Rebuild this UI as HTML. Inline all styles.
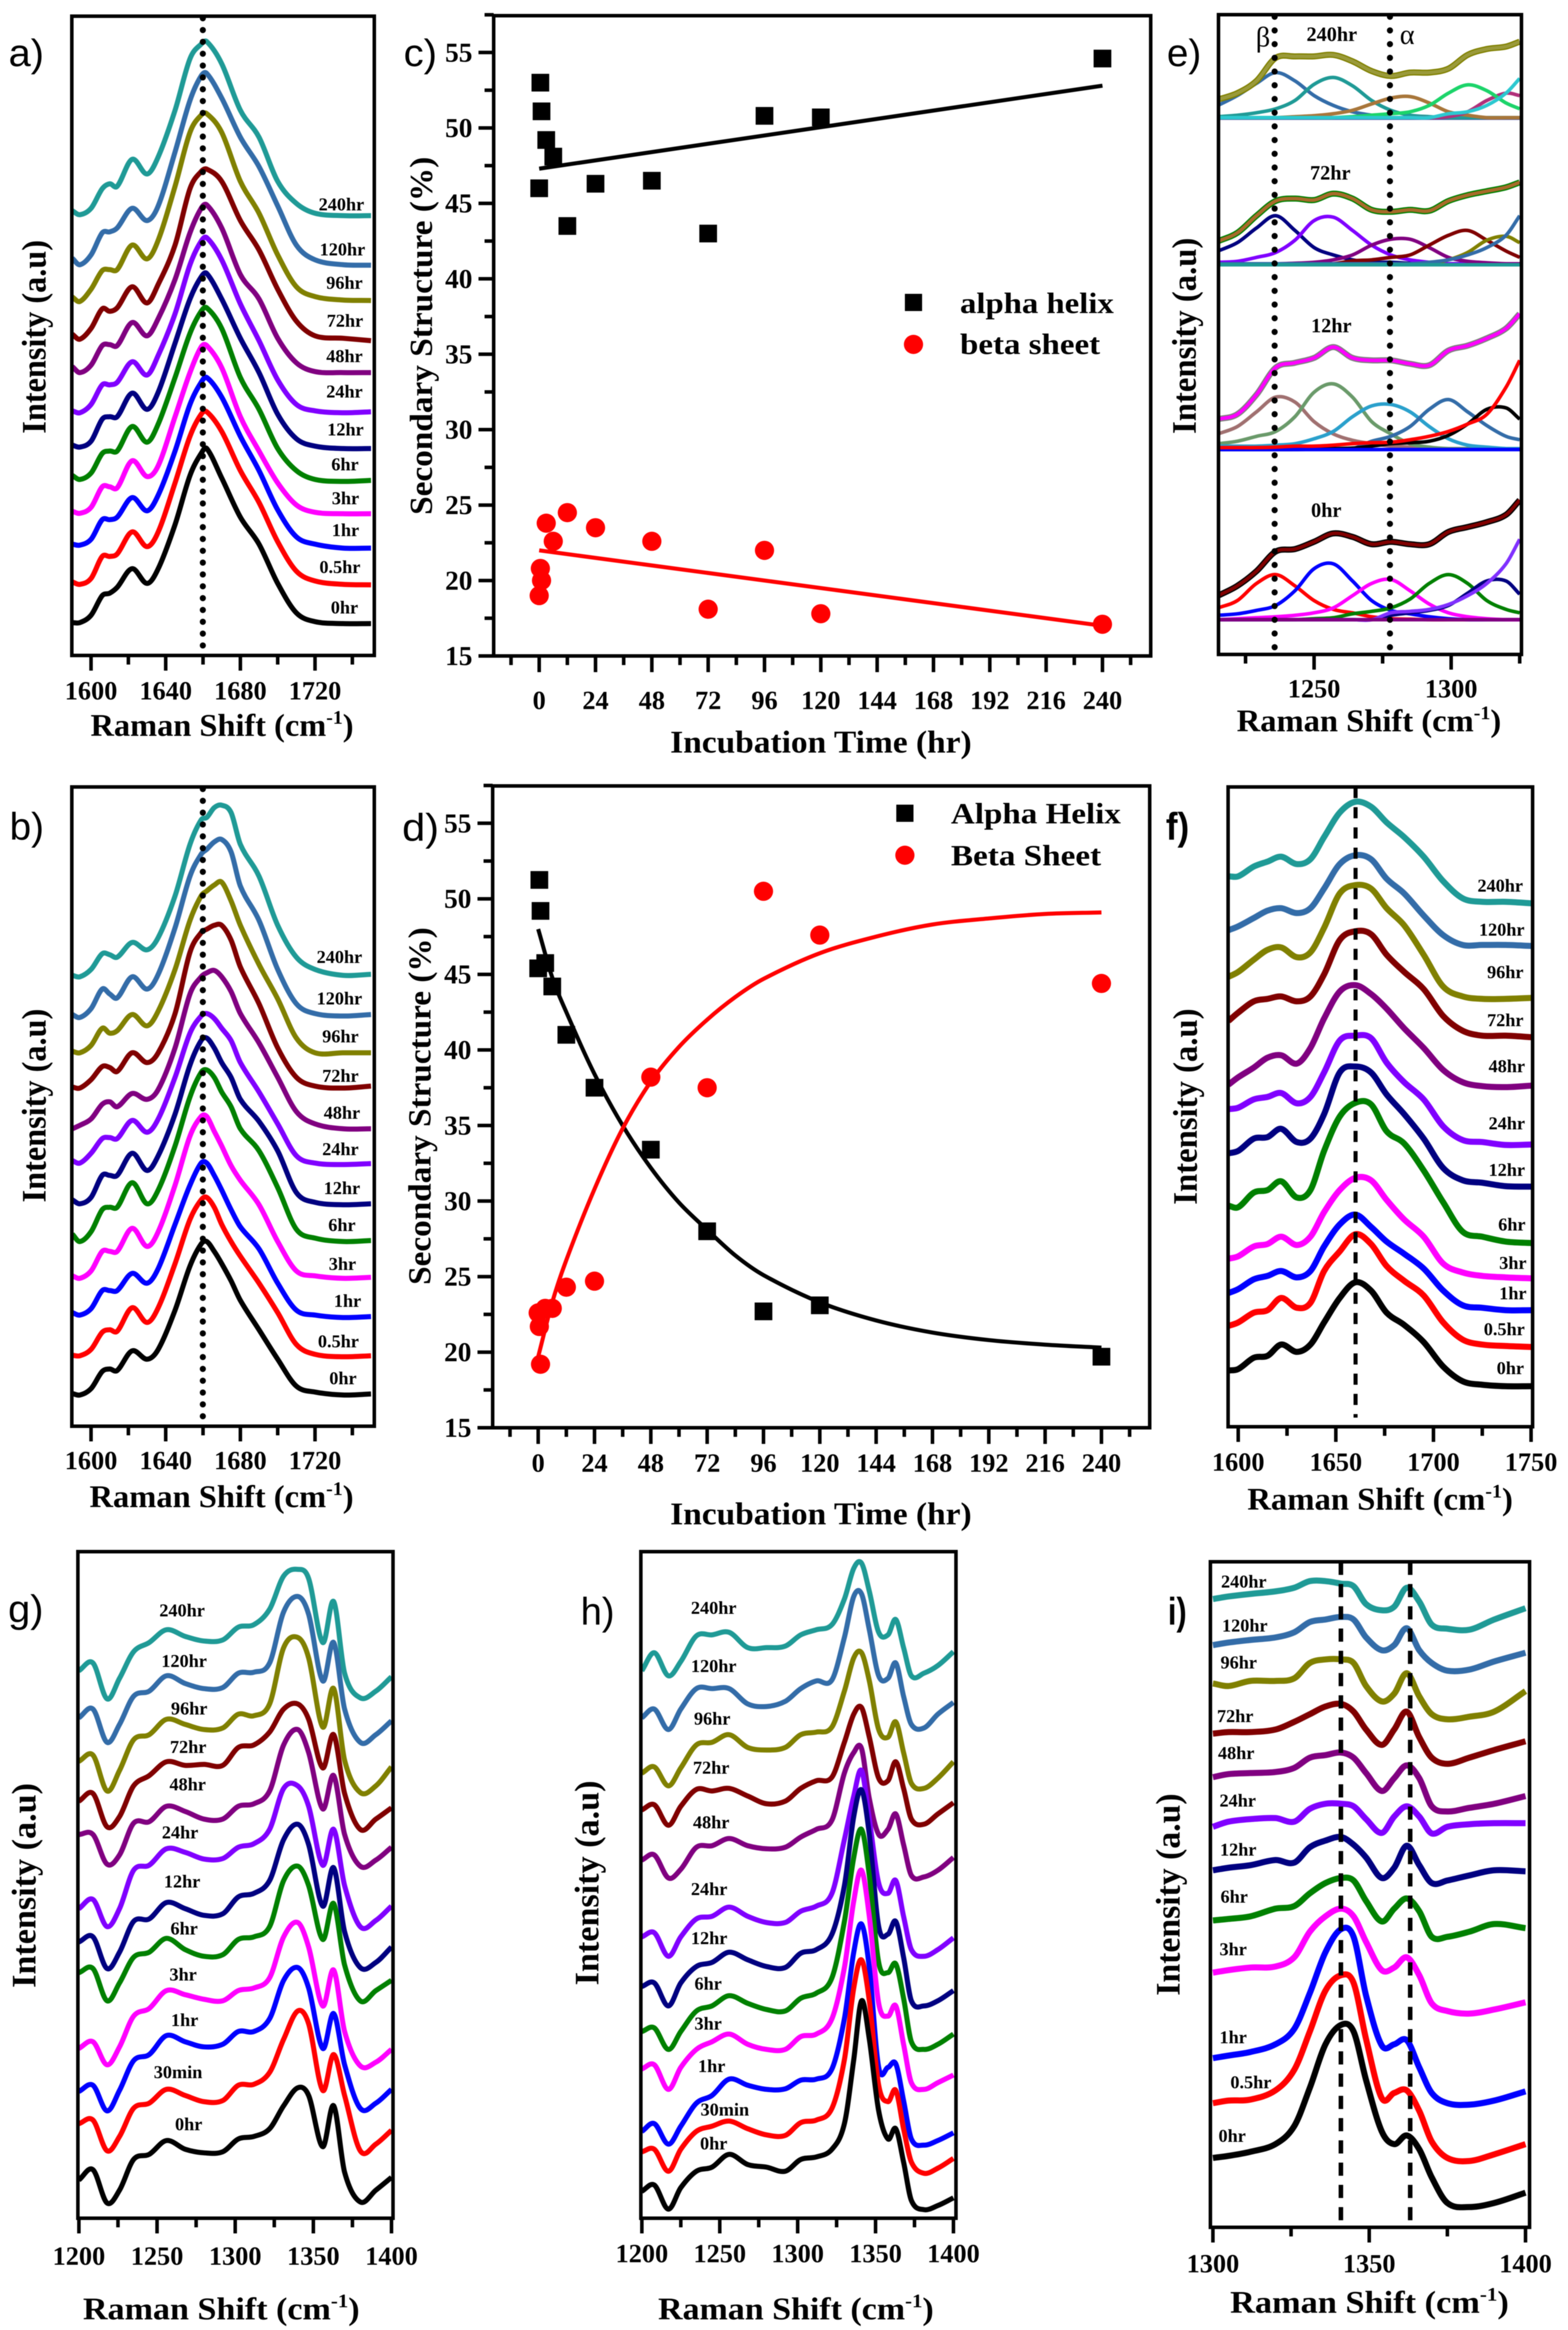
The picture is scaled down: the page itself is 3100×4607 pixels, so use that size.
<!DOCTYPE html>
<html lang="en">
<head>
<meta charset="utf-8">
<title>Raman spectra and secondary structure panels</title>
<style>
html,body{margin:0;padding:0;background:#fff;}
svg{display:block;filter:blur(0.8px);}
text{font-family:"Liberation Serif",serif;font-weight:bold;fill:#000;}
.hr{font-size:36px;text-anchor:middle;}
.hre{font-size:40px;text-anchor:middle;}
.tick{font-size:52px;text-anchor:middle;}
.title{font-size:62px;}
.ytitle{font-size:68px;text-anchor:middle;}
.sstitle{font-size:64px;text-anchor:middle;}
.leg{font-size:58px;}
.letter{font-family:"Liberation Sans",sans-serif;font-weight:normal;font-size:76px;}
</style>
</head>
<body>
<svg id="fig" xmlns="http://www.w3.org/2000/svg" width="3100" height="4607" viewBox="0 0 3100 4607">
<rect x="0" y="0" width="3100" height="4607" fill="#fff"/>
<g id="marks"></g>

<g>
<text class="letter" x="17" y="131" textLength="70" lengthAdjust="spacingAndGlyphs">a)</text>
<text class="letter" x="19" y="1660" textLength="68" lengthAdjust="spacingAndGlyphs">b)</text>
<text class="letter" x="798" y="131" textLength="66" lengthAdjust="spacingAndGlyphs">c)</text>
<text class="letter" x="795" y="1662" textLength="73" lengthAdjust="spacingAndGlyphs">d)</text>
<text class="letter" x="2307" y="131" textLength="68" lengthAdjust="spacingAndGlyphs">e)</text>
<text class="letter" x="2305" y="1660" textLength="46" lengthAdjust="spacingAndGlyphs" style="font-weight:bold">f)</text>
<text class="letter" x="16" y="3207" textLength="70" lengthAdjust="spacingAndGlyphs">g)</text>
<text class="letter" x="1148" y="3212" textLength="67" lengthAdjust="spacingAndGlyphs">h)</text>
<text class="letter" x="2309" y="3212" textLength="37" lengthAdjust="spacingAndGlyphs" style="font-weight:bold">i)</text>
</g>

<g>
<text class="title" x="179" y="1455" textLength="520" lengthAdjust="spacingAndGlyphs">Raman Shift (cm<tspan dy="-24" font-size="38">-1</tspan><tspan dy="24">)</tspan></text>
<text class="title" x="177" y="2980" textLength="522" lengthAdjust="spacingAndGlyphs">Raman Shift (cm<tspan dy="-24" font-size="38">-1</tspan><tspan dy="24">)</tspan></text>
<text class="title" x="2445" y="1446" textLength="523" lengthAdjust="spacingAndGlyphs">Raman Shift (cm<tspan dy="-24" font-size="38">-1</tspan><tspan dy="24">)</tspan></text>
<text class="title" x="2466" y="2985" textLength="525" lengthAdjust="spacingAndGlyphs">Raman Shift (cm<tspan dy="-24" font-size="38">-1</tspan><tspan dy="24">)</tspan></text>
<text class="title" x="164" y="4586" textLength="547" lengthAdjust="spacingAndGlyphs">Raman Shift (cm<tspan dy="-24" font-size="38">-1</tspan><tspan dy="24">)</tspan></text>
<text class="title" x="1301" y="4586" textLength="545" lengthAdjust="spacingAndGlyphs">Raman Shift (cm<tspan dy="-24" font-size="38">-1</tspan><tspan dy="24">)</tspan></text>
<text class="title" x="2432" y="4573" textLength="551" lengthAdjust="spacingAndGlyphs">Raman Shift (cm<tspan dy="-24" font-size="38">-1</tspan><tspan dy="24">)</tspan></text>
<text class="title" x="1325" y="1488" textLength="596" lengthAdjust="spacingAndGlyphs">Incubation Time (hr)</text>
<text class="title" x="1325" y="3014" textLength="596" lengthAdjust="spacingAndGlyphs">Incubation Time (hr)</text>
<text class="ytitle" transform="translate(90,666) rotate(-90)" textLength="383" lengthAdjust="spacingAndGlyphs">Intensity (a.u)</text>
<text class="ytitle" transform="translate(90,2186) rotate(-90)" textLength="383" lengthAdjust="spacingAndGlyphs">Intensity (a.u)</text>
<text class="ytitle" transform="translate(2364,664) rotate(-90)" textLength="388" lengthAdjust="spacingAndGlyphs">Intensity (a.u)</text>
<text class="ytitle" transform="translate(2366,2188) rotate(-90)" textLength="388" lengthAdjust="spacingAndGlyphs">Intensity (a.u)</text>
<text class="ytitle" transform="translate(70,3728) rotate(-90)" textLength="405" lengthAdjust="spacingAndGlyphs">Intensity (a.u)</text>
<text class="ytitle" transform="translate(1183,3723) rotate(-90)" textLength="405" lengthAdjust="spacingAndGlyphs">Intensity (a.u)</text>
<text class="ytitle" transform="translate(2332,3746) rotate(-90)" textLength="400" lengthAdjust="spacingAndGlyphs">Intensity (a.u)</text>
<text class="sstitle" transform="translate(854,664) rotate(-90)" textLength="708" lengthAdjust="spacingAndGlyphs">Secondary Structure (%)</text>
<text class="sstitle" transform="translate(851,2187) rotate(-90)" textLength="707" lengthAdjust="spacingAndGlyphs">Secondary Structure (%)</text>
</g>

<g>
<rect x="1789" y="581" width="34" height="34" fill="#000"/>
<text class="leg" x="1898" y="619" textLength="304" lengthAdjust="spacingAndGlyphs">alpha helix</text>
<circle cx="1806" cy="681" r="19" fill="#ff0000"/>
<text class="leg" x="1898" y="700" textLength="277" lengthAdjust="spacingAndGlyphs">beta sheet</text>
</g>
<g>
<rect x="1772" y="1591" width="34" height="34" fill="#000"/>
<text class="leg" x="1880" y="1628" textLength="336" lengthAdjust="spacingAndGlyphs">Alpha Helix</text>
<circle cx="1789" cy="1691" r="19" fill="#ff0000"/>
<text class="leg" x="1880" y="1711" textLength="297" lengthAdjust="spacingAndGlyphs">Beta Sheet</text>
</g>

<g>
<text class="hr" x="675" y="416">240hr</text>
<text class="hr" x="677" y="505">120hr</text>
<text class="hr" x="681" y="571">96hr</text>
<text class="hr" x="682" y="646">72hr</text>
<text class="hr" x="681" y="716">48hr</text>
<text class="hr" x="681" y="786">24hr</text>
<text class="hr" x="683" y="861">12hr</text>
<text class="hr" x="682" y="930">6hr</text>
<text class="hr" x="683" y="997">3hr</text>
<text class="hr" x="683" y="1060">1hr</text>
<text class="hr" x="672" y="1133">0.5hr</text>
<text class="hr" x="681" y="1213">0hr</text>
</g>
<g>
<text class="hr" x="671" y="1904">240hr</text>
<text class="hr" x="671" y="1986">120hr</text>
<text class="hr" x="673" y="2061">96hr</text>
<text class="hr" x="673" y="2139">72hr</text>
<text class="hr" x="676" y="2212">48hr</text>
<text class="hr" x="673" y="2284">24hr</text>
<text class="hr" x="676" y="2361">12hr</text>
<text class="hr" x="676" y="2434">6hr</text>
<text class="hr" x="677" y="2511">3hr</text>
<text class="hr" x="687" y="2584">1hr</text>
<text class="hr" x="669" y="2664">0.5hr</text>
<text class="hr" x="678" y="2737">0hr</text>
</g>
<g>
<text class="hre" x="2633" y="81">240hr</text>
<text class="hre" x="2630" y="355">72hr</text>
<text class="hre" x="2632" y="657">12hr</text>
<text class="hre" x="2622" y="1022">0hr</text>
<text x="2497" y="92" font-size="56" text-anchor="middle" style="font-weight:normal">β</text>
<text x="2782" y="87" font-size="56" text-anchor="middle" style="font-weight:normal">α</text>
</g>
<g>
<text class="hr" x="2966" y="1763">240hr</text>
<text class="hr" x="2969" y="1850">120hr</text>
<text class="hr" x="2976" y="1934">96hr</text>
<text class="hr" x="2976" y="2029">72hr</text>
<text class="hr" x="2979" y="2120">48hr</text>
<text class="hr" x="2979" y="2233">24hr</text>
<text class="hr" x="2979" y="2325">12hr</text>
<text class="hr" x="2989" y="2433">6hr</text>
<text class="hr" x="2991" y="2509">3hr</text>
<text class="hr" x="2991" y="2569">1hr</text>
<text class="hr" x="2974" y="2640">0.5hr</text>
<text class="hr" x="2986" y="2717">0hr</text>
</g>
<g>
<text class="hr" x="360" y="3196">240hr</text>
<text class="hr" x="364" y="3296">120hr</text>
<text class="hr" x="374" y="3390">96hr</text>
<text class="hr" x="372" y="3466">72hr</text>
<text class="hr" x="371" y="3540">48hr</text>
<text class="hr" x="356" y="3635">24hr</text>
<text class="hr" x="360" y="3732">12hr</text>
<text class="hr" x="364" y="3825">6hr</text>
<text class="hr" x="362" y="3916">3hr</text>
<text class="hr" x="365" y="4006">1hr</text>
<text class="hr" x="352" y="4109">30min</text>
<text class="hr" x="373" y="4212">0hr</text>
</g>
<g>
<text class="hr" x="1411" y="3191">240hr</text>
<text class="hr" x="1411" y="3306">120hr</text>
<text class="hr" x="1408" y="3410">96hr</text>
<text class="hr" x="1406" y="3507">72hr</text>
<text class="hr" x="1406" y="3615">48hr</text>
<text class="hr" x="1402" y="3747">24hr</text>
<text class="hr" x="1402" y="3844">12hr</text>
<text class="hr" x="1400" y="3934">6hr</text>
<text class="hr" x="1400" y="4013">3hr</text>
<text class="hr" x="1407" y="4097">1hr</text>
<text class="hr" x="1433" y="4183">30min</text>
<text class="hr" x="1411" y="4250">0hr</text>
</g>
<g>
<text class="hr" x="2459" y="3139">240hr</text>
<text class="hr" x="2461" y="3226">120hr</text>
<text class="hr" x="2449" y="3299">96hr</text>
<text class="hr" x="2442" y="3405">72hr</text>
<text class="hr" x="2444" y="3478">48hr</text>
<text class="hr" x="2447" y="3572">24hr</text>
<text class="hr" x="2448" y="3669">12hr</text>
<text class="hr" x="2440" y="3762">6hr</text>
<text class="hr" x="2438" y="3866">3hr</text>
<text class="hr" x="2438" y="4040">1hr</text>
<text class="hr" x="2473" y="4129">0.5hr</text>
<text class="hr" x="2436" y="4235">0hr</text>
</g>
</svg>

<script>
// ---------- shared ----------
const seriesColors = ['#000000','#ff0000','#0000ff','#ff00ff','#008000','#000080','#8000ff','#800080','#800000','#808000','#336ca8','#1f9a96'];
const timesHr = ['0hr','0.5hr','1hr','3hr','6hr','12hr','24hr','48hr','72hr','96hr','120hr','240hr'];

// ---------- panel a ----------
const aShift = [1590,1594,1600,1606,1610,1614,1622,1630,1636,1645,1653,1659,1662,1670,1680,1690,1700,1710,1720,1735,1750];
const a0 = [67,67,82,122,127,139,177,147,177,267,367,412,422,362,282,227,147,87,69,65,65];
const a05 = [150,145,157,202,202,207,252,222,252,352,447,492,497,457,377,312,232,172,152,145,144];
const a1 = [227,225,237,277,277,282,322,295,327,417,512,557,567,527,447,377,297,242,227,219,219];
const a3 = [294,290,302,344,344,342,397,365,387,487,577,629,632,587,487,417,352,307,292,289,289];
const a6 = [367,359,372,412,417,417,467,435,472,567,657,702,709,667,567,502,422,377,359,355,357];
const a12 = [429,425,437,482,487,487,535,502,537,637,727,772,779,727,647,577,492,442,427,422,422];
const a24 = [499,495,512,552,552,557,599,572,612,697,797,845,852,807,717,642,562,512,499,495,497];
const a48 = [589,577,592,632,634,632,679,652,687,767,862,912,919,872,777,727,647,597,579,577,577];
const a72 = [655,645,667,707,702,709,752,719,757,837,952,987,992,967,887,827,747,682,652,647,642];
const a96 = [731,722,747,785,787,787,837,809,847,957,1067,1102,1105,1067,967,902,817,752,732,725,724];
const a120 = [810,797,817,862,864,872,912,887,917,1027,1132,1182,1187,1137,1057,997,917,837,807,797,796];
const a240 = [907,899,912,952,962,957,1012,982,1017,1112,1217,1247,1252,1207,1112,1057,967,922,902,897,897];
const aSeries = [a0,a05,a1,a3,a6,a12,a24,a48,a72,a96,a120,a240];
const abMajorTicks = [1600,1640,1680,1720];
const abMinorTicks = [1620,1660,1700,1740];

// ---------- panel b ----------
const bShift = [1590,1594,1600,1606,1610,1614,1622,1630,1636,1645,1653,1659,1662,1666,1670,1675,1680,1690,1700,1710,1720,1735,1750];
const b0 = [67,64,77,112,117,114,154,137,157,237,327,372,377,357,332,297,257,197,137,82,70,64,66];
const b05 = [145,144,157,192,197,194,242,212,242,332,422,462,467,447,412,377,347,292,232,167,147,142,144];
const b1 = [232,227,240,277,277,277,312,292,322,412,492,537,537,512,482,442,407,362,292,237,227,222,224];
const b3 = [307,302,317,357,357,357,404,367,397,492,592,632,632,602,572,532,502,452,377,317,307,302,304];
const b6 = [392,377,397,442,447,447,497,454,482,572,672,722,727,712,682,652,607,562,487,402,384,377,379];
const b12 = [462,454,467,512,512,512,557,522,552,637,737,787,792,772,742,712,667,622,562,477,457,452,454];
const b24 = [542,537,557,587,589,587,624,600,627,712,802,837,842,832,812,787,742,682,617,552,537,534,536];
const b48 = [607,614,627,657,662,652,679,667,687,772,882,917,925,930,917,887,842,782,712,642,617,607,607];
const b72 = [692,690,707,734,732,724,762,742,762,842,967,1007,1014,1022,1022,992,937,862,772,712,694,690,694];
const b96 = [765,762,777,812,802,807,840,817,847,932,1032,1082,1092,1104,1110,1072,1022,942,872,792,762,762,762];
const b120 = [840,834,852,892,882,874,917,892,922,1017,1122,1167,1177,1192,1197,1172,1102,1032,932,862,842,837,840];
const b240 = [920,917,932,964,962,957,987,972,997,1082,1187,1237,1242,1262,1267,1252,1187,1122,1022,957,932,920,922];
const bSeries = [b0,b05,b1,b3,b6,b12,b24,b48,b72,b96,b120,b240];

// ---------- panel c ----------
const incubationTime = [0,0.5,1,3,6,12,24,48,72,96,120,240];
const cAlpha = [46,53,51.1,49.2,48.1,43.5,46.3,46.5,43,50.8,50.7,54.6];
const cBeta = [19,20.8,20,23.8,22.6,24.5,23.5,22.6,18.1,22,17.8,17.1];
const cFitTime = [0,240];
const cAlphaFit = [47.3,52.8];
const cBetaFit = [22,17];
const secStructMajor = [15,20,25,30,35,40,45,50,55];
const secStructMinor = [17.5,22.5,27.5,32.5,37.5,42.5,47.5,52.5,57.5];
const timeMajor = [0,24,48,72,96,120,144,168,192,216,240];
const timeMinor = [-12,12,36,60,84,108,132,156,180,204,228,252];

// ---------- panel d ----------
const dAlpha = [45.4,51.25,49.2,45.75,44.2,41,37.5,33.4,28,22.7,23.1,19.7];
const dBeta = [22.6,21.7,19.2,22.9,22.9,24.3,24.7,38.2,37.5,50.5,47.6,44.4];
const dFitTime = [0,6,12,24,36,48,60,72,84,96,120,144,168,192,216,240];
const dAlphaFit = [48,44.8,42.5,38.4,35,32.2,29.9,28.1,26.4,25.1,23.3,22.1,21.3,20.8,20.5,20.3];
const dBetaFit = [19.7,23.3,26.1,30.8,34.8,37.9,40.2,42,43.5,44.7,46.4,47.5,48.3,48.7,49,49.1];

// ---------- panel e ----------
const eShift = [1215,1222,1229,1236,1243,1250,1257,1264,1271,1278,1285,1292,1299,1306,1313,1320,1325];
const e240Fit = [1097,1110,1135,1182,1185,1185,1188,1175,1155,1145,1152,1152,1160,1188,1200,1205,1215];
const e240Peak1 = [1085,1105,1130,1152,1135,1105,1085,1072,1065,1060,1060,1060,1060,1060,1060,1060,1060];
const e240Peak2 = [1062,1065,1070,1078,1095,1128,1142,1125,1095,1075,1065,1062,1060,1060,1060,1060,1060];
const e240Peak3 = [1060,1060,1060,1060,1062,1064,1068,1075,1088,1100,1103,1090,1072,1065,1060,1060,1060];
const e240Peak4 = [1060,1060,1060,1060,1060,1060,1060,1062,1065,1068,1072,1085,1110,1127,1115,1090,1078];
const e240Peak5 = [1060,1060,1060,1060,1060,1060,1060,1060,1060,1060,1060,1060,1062,1072,1095,1110,1105];
const e240Peak6 = [1060,1060,1060,1060,1060,1060,1060,1060,1060,1060,1060,1060,1068,1072,1085,1110,1140];
const e240Base = [1059,1059,1059,1059,1059,1059,1059,1059,1059,1059,1059,1059,1059,1059,1059,1059,1059];
const e72Fit = [808,825,860,890,895,892,905,895,872,868,872,870,890,902,910,918,928];
const e72Peak1 = [788,805,835,860,830,795,780,770,765,765,763,762,762,762,762,762,762];
const e72Peak2 = [765,767,775,785,810,850,857,830,800,780,770,765,762,762,762,762,762];
const e72Peak3 = [762,762,762,762,763,765,770,780,800,812,812,795,775,767,764,762,762];
const e72Peak4 = [762,762,762,762,762,762,762,768,770,775,780,800,820,830,810,788,775];
const e72Peak5 = [762,762,762,762,762,762,762,762,762,762,762,762,770,785,810,818,805];
const e72Peak6 = [762,762,762,762,762,762,762,762,762,762,762,765,770,780,795,820,860];
const e72Base = [760,760,760,760,760,760,760,760,760,760,760,760,760,760,760,760,760];
const e12Fit = [445,455,495,550,560,570,592,570,565,565,558,555,585,595,610,630,660];
const e12Peak1 = [415,430,460,490,480,440,415,402,395,390,388,385,385,385,385,385,385];
const e12Peak2 = [395,400,410,420,450,500,517,490,440,415,395,388,385,385,385,385,385];
const e12Peak3 = [390,390,390,392,395,405,420,450,472,475,460,430,405,392,388,385,385];
const e12Peak4 = [385,385,385,385,385,385,385,385,400,410,430,465,485,460,432,410,403];
const e12Peak5 = [383,383,383,383,383,384,385,386,390,395,397,400,412,435,465,468,445];
const e12Peak6 = [387,387,387,388,390,390,392,395,397,398,403,410,420,435,455,510,565];
const e12Base = [383,383,383,383,383,383,383,383,383,383,383,383,383,383,383,383,383];
const e0Fit = [85,105,135,175,180,195,212,205,190,195,190,190,215,225,235,250,280];
const e0Peak1 = [60,75,110,128,105,75,57,50,42,38,37,36,36,36,36,36,36];
const e0Peak2 = [45,48,55,65,95,140,150,115,75,55,48,42,38,36,36,36,36];
const e0Peak3 = [36,38,40,42,45,50,60,85,110,118,95,68,50,42,38,36,36];
const e0Peak4 = [36,36,36,36,36,38,40,48,53,60,78,110,128,110,75,57,50];
const e0Peak5 = [36,36,36,36,36,36,36,36,36,45,50,55,65,90,115,115,88];
const e0Peak6 = [36,36,36,36,36,36,36,36,36,50,53,57,67,85,110,150,200];
const e0Base = [36,36,36,36,36,36,36,36,36,36,36,36,36,36,36,36,36];
const eGroup240 = [e240Base,e240Peak1,e240Peak2,e240Peak3,e240Peak5,e240Peak4,e240Peak6];
const eGroup240Colors = ['#4040a0','#336ca8','#1f9a96','#a8763a','#b0307a','#1cd46a','#2cc8d0'];
const eGroup72 = [e72Peak1,e72Peak2,e72Peak3,e72Peak4,e72Peak5,e72Peak6,e72Base];
const eGroup72Colors = ['#000080','#8000ff','#800080','#800000','#808000','#336ca8','#1f9a96'];
const eGroup12 = [e12Peak1,e12Peak2,e12Peak3,e12Peak4,e12Peak5,e12Base,e12Peak6];
const eGroup12Colors = ['#a07070','#6a9a6a','#2aa0cc','#336ca8','#000000','#0000ff','#ff0000'];
const eGroup0 = [e0Peak1,e0Peak2,e0Peak3,e0Peak4,e0Peak5,e0Peak6,e0Base];
const eGroup0Colors = ['#ff0000','#0000ff','#ff00ff','#008000','#000080','#8030ff','#800080'];
const eMajorTicks = [1250,1300];
const eMinorTicks = [1225,1275,1325];

// ---------- panel f ----------
const fShift = [1595,1600,1608,1615,1622,1630,1637,1644,1652,1660,1668,1676,1685,1695,1705,1715,1725,1737,1750];
const f0 = [152,155,178,182,205,190,205,250,300,332,315,270,245,210,160,130,123,120,120];
const f05 = [243,250,270,275,300,280,290,355,395,430,410,365,335,305,250,215,205,202,200];
const f1 = [310,318,338,345,355,342,355,405,450,470,445,415,390,360,315,285,280,275,275];
const f3 = [380,385,405,410,425,408,425,475,520,545,540,500,460,425,370,352,345,342,340];
const f6 = [488,485,515,520,538,505,520,600,670,698,695,640,615,560,495,435,425,415,412];
const f12 = [595,600,625,628,645,618,625,675,760,772,760,715,675,625,565,540,535,528,527];
const f24 = [685,688,705,710,718,697,710,760,825,835,830,780,740,705,650,622,618,612,613];
const f48 = [735,750,770,790,795,778,810,870,925,938,920,890,850,810,765,740,732,730,733];
const f72 = [865,882,905,910,915,905,915,960,1030,1048,1042,1000,965,930,875,845,835,835,832];
const f96 = [955,965,990,1010,1015,995,1005,1055,1125,1142,1135,1095,1060,1000,935,915,910,910,912];
const f120 = [1050,1058,1075,1090,1095,1085,1095,1135,1185,1203,1195,1155,1125,1080,1040,1020,1020,1020,1018];
const f240 = [1160,1160,1180,1190,1200,1185,1195,1240,1290,1312,1302,1270,1240,1200,1150,1115,1108,1108,1105];
const fSeries = [f0,f05,f1,f3,f6,f12,f24,f48,f72,f96,f120,f240];
const fMajorTicks = [1600,1650,1700,1750];
const fMinorTicks = [1625,1675,1725];

// ---------- panel g ----------
const gShift = [1200,1209,1218,1226,1235,1245,1256,1268,1280,1292,1302,1312,1322,1331,1340,1347,1356,1363,1370,1380,1390,1400];
const g0 = [125,145,80,105,165,175,202,185,178,180,205,210,225,270,305,290,190,270,140,82,105,130];
const g05 = [235,242,182,210,265,275,302,290,278,280,310,312,335,400,455,430,300,370,290,182,195,222];
const g1 = [298,310,260,300,358,370,407,395,385,390,415,415,440,515,540,500,382,450,350,265,275,302];
const g3 = [382,395,350,385,445,460,495,487,478,475,495,500,520,600,628,580,465,535,415,348,355,380];
const g6 = [530,538,475,510,560,570,597,575,562,565,595,600,620,710,738,700,595,665,545,475,495,515];
const g12 = [590,600,538,570,630,635,667,655,642,645,678,685,710,790,820,780,660,735,610,540,550,580];
const g24 = [655,673,620,655,730,740,772,765,752,753,775,782,810,890,895,855,740,810,700,620,632,660];
const g48 = [800,800,742,760,822,825,855,845,830,830,855,860,885,975,1005,960,850,915,800,738,750,775];
const g72 = [865,880,815,835,895,915,942,935,937,935,970,975,1000,1045,1055,1025,930,995,880,810,830,852];
const g96 = [943,955,885,925,985,995,1025,1015,1005,1008,1035,1032,1055,1165,1185,1145,1010,1085,945,882,895,932];
const g120 = [1028,1045,980,1015,1070,1080,1110,1095,1085,1087,1115,1117,1135,1235,1265,1230,1100,1175,1045,980,995,1022];
const g240 = [1120,1135,1065,1105,1157,1175,1200,1187,1178,1180,1205,1210,1240,1305,1318,1300,1175,1255,1115,1067,1080,1108];
const gSeries = [g0,g05,g1,g3,g6,g12,g24,g48,g72,g96,g120,g240];
const ghMajorTicks = [1200,1250,1300,1350,1400];
const ghMinorTicks = [1225,1275,1325,1375];

// ---------- panel h ----------
const hShift = [1200,1208,1217,1225,1235,1245,1256,1268,1280,1292,1302,1312,1322,1330,1336,1341,1346,1352,1358,1363,1368,1373,1381,1390,1400];
const h0 = [103,115,68,110,142,150,175,155,150,142,165,170,185,235,360,475,400,260,205,225,160,85,67,75,90];
const h05 = [180,185,142,185,220,230,240,225,213,212,237,242,265,360,500,555,475,310,278,300,225,160,138,148,167];
const h1 = [220,235,195,230,275,290,322,310,302,303,320,322,342,440,570,625,540,345,345,352,280,205,193,202,217];
const h3 = [342,350,302,345,380,395,410,390,380,380,405,410,440,540,670,730,640,470,445,465,390,315,302,315,330];
const h6 = [415,422,380,415,455,465,485,470,458,455,480,490,520,630,755,810,720,550,530,547,480,395,380,390,410];
const h12 = [503,510,465,510,542,550,570,555,542,540,568,575,605,700,835,887,800,620,605,630,560,475,465,475,495];
const h24 = [600,608,562,600,635,640,658,640,628,628,650,660,685,790,875,925,830,705,685,710,640,575,562,575,598];
const h48 = [750,760,715,732,775,778,792,778,772,775,795,810,828,920,960,968,870,800,810,840,780,720,717,730,755];
const h72 = [848,858,818,855,888,885,890,875,860,865,890,905,912,980,1035,1048,990,910,905,942,890,830,820,840,862];
const h96 = [920,932,895,930,975,980,995,970,965,970,995,1000,1010,1080,1145,1155,1100,1005,990,1020,960,900,890,910,942];
const h120 = [1028,1045,1005,1045,1085,1085,1085,1055,1050,1060,1085,1100,1102,1185,1265,1270,1200,1110,1105,1135,1070,1015,1008,1035,1058];
const h240 = [1120,1155,1110,1138,1188,1190,1195,1165,1165,1168,1190,1200,1210,1260,1320,1330,1275,1195,1190,1220,1165,1110,1115,1130,1157];
const hSeries = [h0,h05,h1,h3,h6,h12,h24,h48,h72,h96,h120,h240];

// ---------- panel i ----------
const iShift = [1300,1305,1312,1320,1326,1331,1336,1341,1345,1349,1354,1358,1362,1366,1370,1375,1382,1390,1400];
const i0 = [168,172,180,195,230,305,390,428,415,320,220,195,212,185,130,80,72,80,100];
const i05 = [275,280,282,300,340,415,495,525,510,400,285,295,300,260,200,168,162,175,195];
const i1 = [363,368,375,390,420,490,570,615,600,485,388,390,398,345,295,275,272,280,298];
const i3 = [530,535,540,542,560,610,640,655,640,590,535,540,560,525,470,455,450,458,472];
const i6 = [632,635,640,655,660,685,705,715,710,670,630,655,675,650,600,600,610,625,617];
const i12 = [730,735,740,750,745,775,788,795,780,755,715,735,778,740,705,710,720,730,728];
const i24 = [815,825,830,832,825,850,860,860,855,830,803,835,855,835,802,815,820,822,822];
const i48 = [912,918,920,922,930,950,955,960,950,920,885,910,935,910,855,845,852,860,875];
const i72 = [997,1000,1000,1005,1020,1035,1050,1055,1040,1005,975,1005,1040,990,950,938,950,965,982];
const i96 = [1095,1090,1100,1100,1105,1135,1142,1142,1135,1090,1060,1075,1115,1070,1035,1025,1030,1040,1080];
const i120 = [1170,1175,1180,1185,1195,1215,1220,1225,1220,1185,1160,1170,1203,1160,1135,1120,1122,1138,1155];
const i240 = [1260,1265,1270,1275,1282,1295,1295,1290,1285,1250,1238,1245,1282,1255,1210,1202,1200,1220,1242];
const iSeries = [i0,i05,i1,i3,i6,i12,i24,i48,i72,i96,i120,i240];
const iMajorTicks = [1300,1350,1400];
const iMinorTicks = [1325,1375];

// ---------- drawing ----------
const NS = 'http://www.w3.org/2000/svg';
const root = document.getElementById('marks');
function add(tag, attrs, parent) {
  const el = document.createElementNS(NS, tag);
  for (const k in attrs) el.setAttributeNS(null, k, attrs[k]);
  (parent || root).appendChild(el);
  return el;
}
function linearAxis(pxAtRef, ref, pxPerUnit) {
  return v => pxAtRef + (v - ref) * pxPerUnit;
}
function smoothPath(xs, ys, xFn, yFn) {
  const p = xs.map((x, i) => [xFn(x), yFn(ys[i])]);
  const n = p.length;
  const slope = i => {
    const a = p[Math.max(i - 1, 0)], b = p[Math.min(i + 1, n - 1)];
    return (b[1] - a[1]) / (b[0] - a[0]);
  };
  let d = 'M' + p[0][0].toFixed(1) + ' ' + p[0][1].toFixed(1);
  for (let i = 0; i < n - 1; i++) {
    const dx = (p[i + 1][0] - p[i][0]) / 3;
    d += 'C' + (p[i][0] + dx).toFixed(1) + ' ' + (p[i][1] + slope(i) * dx).toFixed(1) + ' ' +
         (p[i + 1][0] - dx).toFixed(1) + ' ' + (p[i + 1][1] - slope(i + 1) * dx).toFixed(1) + ' ' +
         p[i + 1][0].toFixed(1) + ' ' + p[i + 1][1].toFixed(1);
  }
  return d;
}
function curve(xs, ys, xFn, yFn, color, width, name, parent) {
  const el = add('path', {d: smoothPath(xs, ys, xFn, yFn), fill: 'none', stroke: color, 'stroke-width': width, 'stroke-linejoin': 'round', 'stroke-linecap': 'butt'}, parent);
  
  
  return el;
}
function frame(x0, y0, x1, y1, name) {
  const el = add('rect', {x: x0, y: y0, width: x1 - x0, height: y1 - y0, fill: 'none', stroke: '#000', 'stroke-width': 7});
  
  
}
function tickLine(x1, y1, x2, y2, name) {
  const el = add('line', {x1, y1, x2, y2, stroke: '#000', 'stroke-width': 7});
  
  
}
function tickText(txt, x, y, anchor, size) {
  const el = add('text', {x, y, 'text-anchor': anchor, 'font-size': size, style: 'font-size:' + size + 'px'});
  el.textContent = txt;
  
  
}
function xTicks(xFn, major, minor, bottom, labelBase, longLen, shortLen) {
  major.forEach(v => {
    tickLine(xFn(v), bottom, xFn(v), bottom + longLen, 'x-major-tick');
    tickText(String(v), xFn(v), labelBase, 'middle', 52);
  });
  minor.forEach(v => tickLine(xFn(v), bottom, xFn(v), bottom + shortLen, 'x-minor-tick'));
}
function guide(x, y0, y1, width, dash, cap, name) {
  const el = add('line', {x1: x, y1: y0, x2: x, y2: y1, stroke: '#000', 'stroke-width': width, 'stroke-dasharray': dash, 'stroke-linecap': cap});
  
  
}
function spectra(shift, series, xFn, yFn, width, panel) {
  for (let i = series.length - 1; i >= 0; i--) {
    curve(shift, series[i], xFn, yFn, seriesColors[i], width, panel + '-spectrum-' + timesHr[i]);
  }
}
function square(cx, cy) {
  const el = add('rect', {x: cx - 17.5, y: cy - 17.5, width: 35, height: 35, fill: '#000'});
  
  
}
function dot(cx, cy) {
  const el = add('circle', {cx, cy, r: 19, fill: '#ff0000'});
  
  
}

// panel a
const ax = linearAxis(180, 1600, 3.69), ay = linearAxis(1296, 0, -0.9694);
spectra(aShift, aSeries, ax, ay, 10, 'panel-a');
guide(401, 36, 1296, 12, '0.1 23.3', 'round', 'panel-a-guide-line');
frame(142, 32, 740, 1296, 'panel-a-frame');
xTicks(ax, abMajorTicks, abMinorTicks, 1296, 1383, 30, 18);

// panel b
const bx = linearAxis(180, 1600, 3.69), by = linearAxis(2820.3, 0, -0.9694);
spectra(bShift, bSeries, bx, by, 10, 'panel-b');
guide(401, 1560, 2812, 12, '0.1 23.3', 'round', 'panel-b-guide-line');
frame(142, 1556, 740, 2820, 'panel-b-frame');
xTicks(bx, abMajorTicks, abMinorTicks, 2820, 2905, 30, 18);

// panel c
const cx = linearAxis(1066, 0, 4.64), cy = linearAxis(1297, 15, -29.83);
frame(976, 31, 2275, 1297, 'panel-c-frame');
xTicks(cx, timeMajor, timeMinor, 1297, 1402, 32, 18);
secStructMajor.forEach(v => {
  tickLine(976, cy(v), 946, cy(v), 'y-major-tick');
  tickText(String(v), 934, cy(v) + 18, 'end', 54);
});
secStructMinor.forEach(v => tickLine(976, cy(v), 958, cy(v), 'y-minor-tick'));
curve(cFitTime, cAlphaFit, cx, cy, '#000', 8, 'panel-c-alpha-fit');
curve(cFitTime, cBetaFit, cx, cy, '#ff0000', 8, 'panel-c-beta-fit');
incubationTime.forEach((t, i) => square(cx(t), cy(cAlpha[i])));
incubationTime.forEach((t, i) => dot(cx(t), cy(cBeta[i])));

// panel d
const dx = linearAxis(1064, 0, 4.64), dy = linearAxis(2823, 15, -29.88);
frame(974, 1554, 2273, 2823, 'panel-d-frame');
xTicks(dx, timeMajor, timeMinor, 2823, 2910, 32, 18);
secStructMajor.forEach(v => {
  tickLine(974, dy(v), 944, dy(v), 'y-major-tick');
  tickText(String(v), 932, dy(v) + 18, 'end', 54);
});
secStructMinor.forEach(v => tickLine(974, dy(v), 956, dy(v), 'y-minor-tick'));
curve(dFitTime, dAlphaFit, dx, dy, '#000', 8, 'panel-d-alpha-fit');
curve(dFitTime, dBetaFit, dx, dy, '#ff0000', 8, 'panel-d-beta-fit');
incubationTime.forEach((t, i) => square(dx(t), dy(dAlpha[i])));
incubationTime.forEach((t, i) => dot(dx(t), dy(dBeta[i])));

// panel e
const ex = linearAxis(2598, 1250, 5.42), ey = linearAxis(1260.2, 0, -0.9694);
function fitGroup(fit, dataColor, fitColor, group, colors, label) {
  group.forEach((peak, i) => curve(eShift, peak, ex, ey, colors[i], 7, 'panel-e-' + label + '-component-' + i));
  curve(eShift, fit, ex, ey, dataColor, 12, 'panel-e-' + label + '-data');
  curve(eShift, fit, ex, ey, fitColor, 7, 'panel-e-' + label + '-fit');
}
fitGroup(e240Fit, '#808000', '#9a9a3a', eGroup240, eGroup240Colors, '240hr');
fitGroup(e72Fit, '#008000', '#a86a2a', eGroup72, eGroup72Colors, '72hr');
fitGroup(e12Fit, '#808080', '#ff00ff', eGroup12, eGroup12Colors, '12hr');
fitGroup(e0Fit, '#000000', '#800000', eGroup0, eGroup0Colors, '0hr');
guide(2520, 33, 1294, 12, '0.1 27', 'round', 'panel-e-beta-guide');
guide(2748, 33, 1294, 12, '0.1 27', 'round', 'panel-e-alpha-guide');
frame(2409, 29, 3008, 1294, 'panel-e-frame');
xTicks(ex, eMajorTicks, eMinorTicks, 1294, 1379, 30, 18);

// panel f
const fx = linearAxis(2448, 1600, 3.86), fy = linearAxis(2857.2, 0, -0.9694);
spectra(fShift, fSeries, fx, fy, 12, 'panel-f');
guide(2680, 1556, 2803, 8, '22 18', 'butt', 'panel-f-guide-line');
frame(2428, 1556, 3030, 2821, 'panel-f-frame');
xTicks(fx, fMajorTicks, fMinorTicks, 2821, 2908, 30, 18);

// panel g
const gx = linearAxis(156, 1200, 3.09), gy = linearAxis(4436.8, 0, -1.012);
spectra(gShift, gSeries, gx, gy, 10, 'panel-g');
frame(154, 3068, 777, 4386, 'panel-g-frame');
xTicks(gx, ghMajorTicks, ghMinorTicks, 4386, 4478, 30, 18);

// panel h
const hx = linearAxis(1269, 1200, 3.08), hy = linearAxis(4436.8, 0, -1.012);
spectra(hShift, hSeries, hx, hy, 10, 'panel-h');
frame(1267, 3068, 1890, 4386, 'panel-h-frame');
xTicks(hx, ghMajorTicks, ghMinorTicks, 4386, 4473, 30, 18);

// panel i
const ix = linearAxis(2398, 1300, 6.18), iy = linearAxis(4436.8, 0, -1.012);
spectra(iShift, iSeries, ix, iy, 12, 'panel-i');
guide(2651, 3088, 4391, 9, '26 18', 'butt', 'panel-i-guide-left');
guide(2788, 3088, 4391, 9, '26 18', 'butt', 'panel-i-guide-right');
frame(2393, 3088, 3024, 4404, 'panel-i-frame');
xTicks(ix, iMajorTicks, iMinorTicks, 4404, 4493, 30, 18);
</script>
</body>
</html>
